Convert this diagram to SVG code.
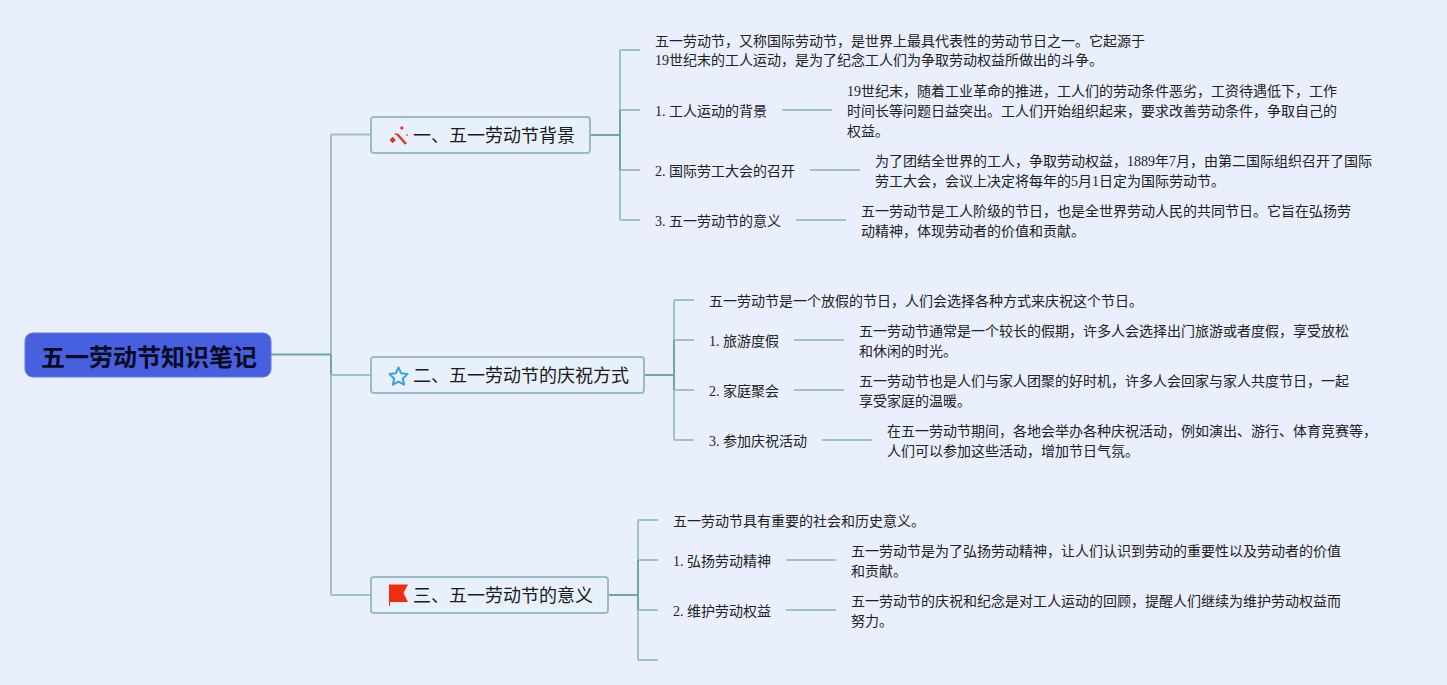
<svg xmlns="http://www.w3.org/2000/svg" width="1447" height="685" viewBox="0 0 1447 685">
<style>
text{font-family:"Liberation Serif","Noto Sans CJK SC",serif;fill:#222}
.t{font-size:14px}
.h{font-size:18px;font-family:"Noto Sans CJK SC",sans-serif;fill:#1a1a1a}
.r{font-size:24px;font-weight:700;font-family:"Noto Sans CJK SC",sans-serif;fill:#0a0a20}
.box{fill:#e8f1fb;stroke:#97bcc3;stroke-width:2}
.c{fill:none;stroke:#a0c3c8;stroke-width:2}
.d{fill:none;stroke:#6ea6a5;stroke-width:2}
</style>
<rect width="1447" height="685" fill="#e9effc"/>
<g id="connectors">
<path class="c" d="M331 355V135.500Q331 134.500 332 134.500H371M331 355V375H371M331 355V594Q331 595 332 595H371"/>
<path class="d" d="M271 354.500H331M331 355V375"/>
<path class="c" d="M620 135V51Q620 50 621 50H640M620 110H640M620 135V170H640M620 135V219Q620 220 621 220H640"/>
<path class="d" d="M590 135H620M620 110V170"/>
<path class="c" d="M782 110H832M810 170H860M796 220H846"/>
<path class="c" d="M674 375V301Q674 300 675 300H694M674 340H694M674 375V390H694M674 375V439Q674 440 675 440H694"/>
<path class="d" d="M644 375H674M674 340V390"/>
<path class="c" d="M794 340H844M794 390H844M822 440H872"/>
<path class="c" d="M638 595V521Q638 520 639 520H658M638 560H658M638 595V610H658M638 595V659Q638 660 639 660H658"/>
<path class="d" d="M608 595H638M638 560V610"/>
<path class="c" d="M786 560H836M786 610H836"/>
</g>
<g id="root"><rect x="25" y="333" width="246" height="44" rx="8" fill="#4660e0" stroke="#5f78e4" stroke-width="1"/><text class="r" x="41" y="366">五一劳动节知识笔记</text></g>
<g id="b1"><rect class="box" x="371" y="117" width="219" height="36" rx="3"/>
<g fill="#d8372c"><path d="M397 134L406 144" stroke="#d8372c" stroke-width="2.500"/><path d="M389.500 140l3.200-3.200l3.200 3.200l-3.200 3.200zM399.800 128l2-2l2 2l-2 2zM406 135l1-1l1 1l-1 1z"/><circle cx="395.700" cy="134" r="1"/></g>
<text class="h" x="413" y="142">一、五一劳动节背景</text></g>
<g id="b2"><rect class="box" x="371" y="357" width="273" height="36" rx="3"/>
<path d="M398.500 367.500l2.700 5.800 6.300.8-4.600 4.400 1.200 6.200-5.600-3.100-5.600 3.100 1.200-6.200-4.600-4.400 6.300-.8z" fill="none" stroke="#3aa0e0" stroke-width="2" stroke-linejoin="round"/>
<text class="h" x="413" y="382">二、五一劳动节的庆祝方式</text></g>
<g id="b3"><rect class="box" x="371" y="577" width="237" height="36" rx="3"/>
<path d="M389 584.500H408L403.500 593L408 602H390V606H389Z" fill="#f02c12"/>
<text class="h" x="413" y="602">三、五一劳动节的意义</text></g>
<g id="n1"><text class="t" x="655" y="46">五一劳动节，又称国际劳动节，是世界上最具代表性的劳动节日之一。它起源于</text><text class="t" x="655" y="65">19世纪末的工人运动，是为了纪念工人们为争取劳动权益所做出的斗争。</text></g>
<g id="n2"><text class="t" x="655" y="116">1. 工人运动的背景</text></g>
<g id="n3"><text class="t" x="847" y="96">19世纪末，随着工业革命的推进，工人们的劳动条件恶劣，工资待遇低下，工作</text><text class="t" x="847" y="116">时间长等问题日益突出。工人们开始组织起来，要求改善劳动条件，争取自己的</text><text class="t" x="847" y="136">权益。</text></g>
<g id="n4"><text class="t" x="655" y="176">2. 国际劳工大会的召开</text></g>
<g id="n5"><text class="t" x="875" y="166">为了团结全世界的工人，争取劳动权益，1889年7月，由第二国际组织召开了国际</text><text class="t" x="875" y="186">劳工大会，会议上决定将每年的5月1日定为国际劳动节。</text></g>
<g id="n6"><text class="t" x="655" y="226">3. 五一劳动节的意义</text></g>
<g id="n7"><text class="t" x="861" y="216">五一劳动节是工人阶级的节日，也是全世界劳动人民的共同节日。它旨在弘扬劳</text><text class="t" x="861" y="236">动精神，体现劳动者的价值和贡献。</text></g>
<g id="n8"><text class="t" x="709" y="306">五一劳动节是一个放假的节日，人们会选择各种方式来庆祝这个节日。</text></g>
<g id="n9"><text class="t" x="709" y="346">1. 旅游度假</text></g>
<g id="n10"><text class="t" x="859" y="336">五一劳动节通常是一个较长的假期，许多人会选择出门旅游或者度假，享受放松</text><text class="t" x="859" y="356">和休闲的时光。</text></g>
<g id="n11"><text class="t" x="709" y="396">2. 家庭聚会</text></g>
<g id="n12"><text class="t" x="859" y="386">五一劳动节也是人们与家人团聚的好时机，许多人会回家与家人共度节日，一起</text><text class="t" x="859" y="406">享受家庭的温暖。</text></g>
<g id="n13"><text class="t" x="709" y="446">3. 参加庆祝活动</text></g>
<g id="n14"><text class="t" x="887" y="436">在五一劳动节期间，各地会举办各种庆祝活动，例如演出、游行、体育竞赛等，</text><text class="t" x="887" y="456">人们可以参加这些活动，增加节日气氛。</text></g>
<g id="n15"><text class="t" x="673" y="526">五一劳动节具有重要的社会和历史意义。</text></g>
<g id="n16"><text class="t" x="673" y="566">1. 弘扬劳动精神</text></g>
<g id="n17"><text class="t" x="851" y="556">五一劳动节是为了弘扬劳动精神，让人们认识到劳动的重要性以及劳动者的价值</text><text class="t" x="851" y="576">和贡献。</text></g>
<g id="n18"><text class="t" x="673" y="616">2. 维护劳动权益</text></g>
<g id="n19"><text class="t" x="851" y="606">五一劳动节的庆祝和纪念是对工人运动的回顾，提醒人们继续为维护劳动权益而</text><text class="t" x="851" y="626">努力。</text></g>
</svg>
